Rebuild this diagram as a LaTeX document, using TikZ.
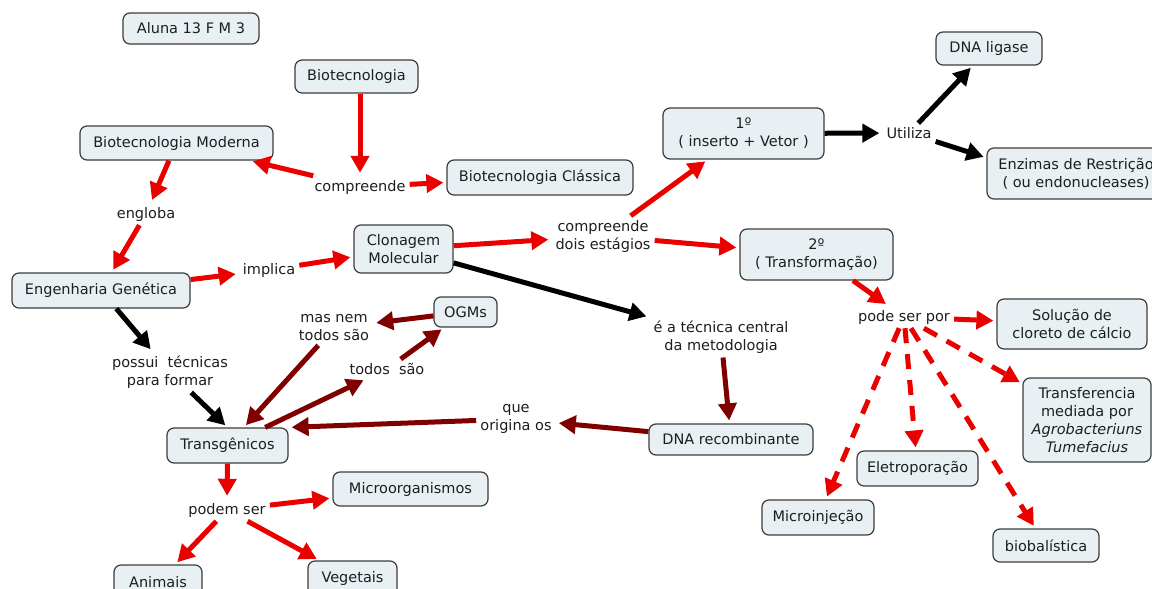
\documentclass[tikz,border=0pt]{standalone}
\usepackage{fontspec}
\setmainfont{DejaVu Sans}
\usetikzlibrary{arrows.meta}
\definecolor{boxfill}{RGB}{232,240,244}
\definecolor{boxline}{RGB}{60,60,60}
\definecolor{linkred}{RGB}{235,0,0}
\definecolor{linkdark}{RGB}{128,0,0}
\definecolor{txt}{RGB}{30,30,30}

\begin{document}
\begin{tikzpicture}[x=1pt,y=-1pt,
  every node/.style={font=\fontsize{14.5pt}{18pt}\selectfont, text=txt},
  concept/.style={draw=boxline, fill=boxfill, line width=1.2pt, rounded corners=7pt, inner sep=0pt, align=center},
  sz/.style 2 args={minimum width=#1, minimum height=#2},
  phrase/.style={inner sep=4pt, align=center},
  link/.style={line width=5pt, -{Triangle[length=17pt,width=18pt]}, shorten >=3pt},
  redlink/.style={link, draw=linkred},
  darklink/.style={link, draw=linkdark},
  blacklink/.style={link, draw=black},
  dashlink/.style={redlink, dash pattern=on 15pt off 11pt},
]
\useasboundingbox[fill=white] (0,0) rectangle (1152,589);

% concepts
\node[concept, sz={136pt}{31pt}] (aluna)    at (191,28.5)   {Aluna 13 F M 3};
\node[concept, sz={123pt}{33pt}] (bio)      at (356.5,76.5) {Biotecnologia};
\node[concept, sz={193pt}{34pt}] (biomod)   at (176.5,143)  {Biotecnologia Moderna};
\node[concept, sz={186pt}{35pt}] (bioclas)  at (540,177.5)  {Biotecnologia Clássica};
\node[concept, sz={161pt}{51pt}] (first)    at (743.5,133.5){1º\\( inserto + Vetor )};
\node[concept, sz={106pt}{33pt}] (ligase)   at (989,48.5)   {DNA ligase};
\node[concept, sz={178pt}{51pt}] (enz)      at (1076,173.5) {Enzimas de Restrição\\( ou endonucleases)};
\node[concept, sz={99pt}{48pt}]  (clon)     at (403.5,249)  {Clonagem\\Molecular};
\node[concept, sz={178pt}{35pt}] (eng)      at (101,290.5)  {Engenharia Genética};
\node[concept, sz={153pt}{51pt}] (second)   at (816.5,254.5){2º\\( Transformação)};
\node[concept, sz={63pt}{30pt}]  (ogm)      at (465.5,312)  {OGMs};
\node[concept, sz={164pt}{31pt}] (dnarec)   at (731,439.5)  {DNA recombinante};
\node[concept, sz={150pt}{50pt}] (sol)      at (1072,324)   {Solução de\\cloreto de cálcio};
\node[concept, sz={128pt}{84pt}] (transf)   at (1087,420)   {Transferencia\\mediada por\\\textit{Agrobacteriuns}\\\textit{Tumefacius}};
\node[concept, sz={121pt}{35pt}] (eletro)   at (917.5,468.5){Eletroporação};
\node[concept, sz={112pt}{35pt}] (micro)    at (818,517.5)  {Microinjeção};
\node[concept, sz={106pt}{33pt}] (biobal)   at (1046,545.5) {biobalística};
\node[concept, sz={121pt}{35pt}] (trans)    at (227.5,445.5){Transgênicos};
\node[concept, sz={155pt}{34pt}] (microorg) at (410.5,489)  {Microorganismos};
\node[concept, sz={88pt}{35pt}]  (animais)  at (158,582.5)  {Animais};
\node[concept, sz={89pt}{35pt}]  (vegetais) at (352.5,578.5){Vegetais};

% linking phrases
\node[phrase] (lcomp)  at (360,187) {compreende};
\node[phrase] (lengl)  at (146,214) {engloba};
\node[phrase] (limpl)  at (269,270) {implica};
\node[phrase] (lcomp2) at (603,236) {compreende\\dois estágios};
\node[phrase] (lutil)  at (909,133) {Utiliza};
\node[phrase] (ltec)   at (721,337) {é a técnica central\\da metodologia};
\node[phrase] (lorig)  at (516,419) {que\\origina os};
\node[phrase] (lpode)  at (904,317) {pode ser por};
\node[phrase] (lmas)   at (334,328) {mas nem\\todos são};
\node[phrase] (ltodos) at (387,369) {todos~ são};
\node[phrase] (lposs)  at (170,372) {possui~ técnicas\\para formar};
\node[phrase] (lpodem) at (227,510) {podem ser};

% connectors
\draw[redlink] (lcomp |- bio.south) -- (lcomp);
\draw[redlink] (lcomp) -- (biomod);
\draw[redlink] (lcomp) -- (bioclas);
\draw[redlink] (biomod) -- (lengl);
\draw[redlink] (lengl) -- (eng);
\draw[redlink] (eng) -- (limpl);
\draw[redlink] (limpl) -- (clon);
\draw[redlink] (clon) -- (lcomp2);
\draw[redlink] (lcomp2) -- (first);
\draw[redlink] (lcomp2) -- (second);
\draw[blacklink] (first) -- (lutil);
\draw[blacklink] (lutil) -- (ligase);
\draw[blacklink] (lutil) -- (enz.170);
\draw[blacklink] (clon) -- (ltec);
\draw[darklink] (ltec) -- (dnarec);
\draw[darklink] (dnarec) -- (lorig);
\draw[darklink] (lorig) -- (trans.north east);
\draw[darklink] (ogm) -- (lmas);
\draw[darklink] (lmas) -- (trans);
\draw[darklink] (trans) -- (ltodos);
\draw[darklink] (ltodos) -- (ogm);
\draw[blacklink] (eng) -- (lposs);
\draw[blacklink] (lposs) -- (trans.north);
\draw[redlink] (trans) -- (lpodem);
\draw[redlink] (lpodem) -- (microorg);
\draw[redlink] (lpodem) -- (animais);
\draw[redlink] (lpodem) -- (vegetais);
\draw[redlink] (second) -- (lpode);
\draw[redlink] (lpode) -- (sol);
\draw[dashlink] (lpode) -- (transf);
\draw[dashlink] (lpode) -- (micro);
\draw[dashlink] (lpode) -- (eletro);
\draw[dashlink] (lpode) -- (biobal);
\end{tikzpicture}
\end{document}
